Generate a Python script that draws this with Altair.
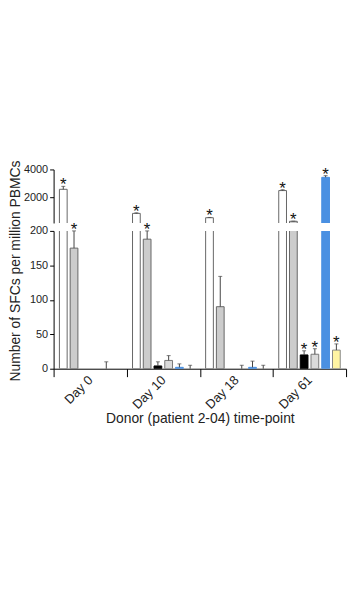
import altair as alt
import pandas as pd

days = ["Day 0", "Day 10", "Day 18", "Day 61"]
series = ["Open", "Hatched", "Black", "Grey", "Blue", "Yellow"]

open_vals = [2590, 880, 573, 2500]
hatched_vals = [175, 188, 90, 320]
black_vals = [0, 4, 0, 20]
grey_vals = [0, 12, 0, 21]
blue_vals = [0, 2, 2, 3440]
yellow_vals = [0, 0, 0, 27]

open_err = [210, 40, 20, 60]
hatched_err = [25, 12, 44, 10]
black_err = [0, 6, 0, 6]
grey_err = [0, 7, 5, 8]
blue_err = [10, 5, 9, 120]
yellow_err = [0, 5, 5, 9]

open_star = [True, True, True, True]
hatched_star = [True, True, False, True]
black_star = [False, False, False, True]
grey_star = [False, False, False, True]
blue_star = [False, False, False, True]
yellow_star = [False, False, False, True]

fills = ["#ffffff", "#cccccc", "#000000", "#dadada", "#4a90e2", "#fff4a3"]
strokes = ["#666666", "#666666", "#000000", "#777777", "#4a90e2", "#888888"]

vals = [open_vals, hatched_vals, black_vals, grey_vals, blue_vals, yellow_vals]
errs = [open_err, hatched_err, black_err, grey_err, blue_err, yellow_err]
stars = [open_star, hatched_star, black_star, grey_star, blue_star, yellow_star]

rows = []
for si, s in enumerate(series):
    for di, d in enumerate(days):
        rows.append({
            "day": d, "series": s, "value": vals[si][di], "err": errs[si][di],
            "top": vals[si][di] + errs[si][di], "star": stars[si][di],
        })
df = pd.DataFrame(rows)

FONT = "Liberation Sans"

xenc = alt.X("day:N", sort=days, scale=alt.Scale(paddingInner=0, paddingOuter=0))
xoff = alt.XOffset("series:N", sort=series,
                   scale=alt.Scale(paddingInner=0.28, paddingOuter=0.54))
color = alt.Color("series:N", scale=alt.Scale(domain=series, range=fills), legend=None)
stroke = alt.Stroke("series:N", scale=alt.Scale(domain=series, range=strokes), legend=None)

W = 295
STAR = dict(text="*", fontSize=17, font=FONT, baseline="alphabetic", dy=4, color="#111")

# ---------- top panel ----------
top_scale = alt.Scale(domain=[200, 4000], nice=False, zero=False)
top_axis = alt.Axis(values=[2000, 4000], format="d", title=None, grid=False, tickSize=4,
                    labelFontSize=11, labelFont=FONT, domainColor="#000", tickColor="#000",
                    labelColor="#222", labelOverlap=False)
top_base = alt.Chart(df).transform_filter("datum.value > 200")
top_bars = top_base.mark_bar(clip=True, strokeWidth=1).encode(
    x=xenc.axis(None), xOffset=xoff,
    y=alt.Y("value:Q", scale=top_scale, axis=top_axis), y2=alt.datum(0),
    color=color, stroke=stroke)
top_err = top_base.mark_rule(color="#444", strokeWidth=1).encode(
    x=xenc.axis(None), xOffset=xoff,
    y=alt.Y("value:Q", scale=top_scale, axis=top_axis), y2="top:Q")
top_cap = top_base.mark_tick(color="#444", size=4, thickness=1).encode(
    x=xenc.axis(None), xOffset=xoff, y=alt.Y("top:Q", scale=top_scale, axis=top_axis))
top_star = top_base.transform_filter("datum.star").mark_text(**STAR).encode(
    x=xenc.axis(None), xOffset=xoff, y=alt.Y("top:Q", scale=top_scale, axis=top_axis))
top = alt.layer(top_bars, top_err, top_cap, top_star).properties(width=W, height=54)

# ---------- bottom panel ----------
bot_scale = alt.Scale(domain=[0, 200], nice=False)
bot_axis = alt.Axis(values=[0, 50, 100, 150, 200], format="d",
                    title="Number of SFCs per million PBMCs",
                    grid=False, tickSize=4, labelFontSize=11, labelFont=FONT,
                    domainColor="#000", tickColor="#000", labelColor="#222",
                    labelOverlap=False,
                    titleFont=FONT, titleFontSize=14, titleFontWeight="normal",
                    titleColor="#222", titleAngle=270, titleAlign="center",
                    titleBaseline="middle", titleX=-38, titleY=40)
x_axis = alt.Axis(title="Donor (patient 2-04) time-point", labelAngle=315,
                  labelAlign="right", labelBaseline="middle", labelPadding=1,
                  labelFontSize=13, labelFont=FONT, labelColor="#222",
                  tickBand="extent", tickSize=8, domainColor="#000", tickColor="#000",
                  titleFont=FONT, titleFontSize=14, titleFontWeight="normal",
                  titleColor="#222", titlePadding=0)
bot_base = alt.Chart(df)
bot_bars = bot_base.transform_filter("datum.value > 0").mark_bar(
    clip=True, strokeWidth=1).encode(
    x=xenc.axis(x_axis), xOffset=xoff,
    y=alt.Y("value:Q", scale=bot_scale, axis=bot_axis),
    color=color, stroke=stroke)
eb = bot_base.transform_filter("datum.value < 200 && datum.err > 0")
bot_err = eb.mark_rule(color="#444", strokeWidth=1).encode(
    x=xenc.axis(x_axis), xOffset=xoff,
    y=alt.Y("value:Q", scale=bot_scale, axis=bot_axis), y2="top:Q")
bot_cap = eb.mark_tick(color="#444", size=4, thickness=1).encode(
    x=xenc.axis(x_axis), xOffset=xoff, y=alt.Y("top:Q", scale=bot_scale, axis=bot_axis))
bot_star = bot_base.transform_filter("datum.star && datum.value < 200").mark_text(
    **STAR).encode(
    x=xenc.axis(x_axis), xOffset=xoff, y=alt.Y("top:Q", scale=bot_scale, axis=bot_axis))
bottom = alt.layer(bot_bars, bot_err, bot_cap, bot_star).properties(width=W, height=139)

chart = alt.vconcat(top, bottom, spacing=8, bounds="flush").properties(
    padding={"top": 151, "left": 0, "right": 5, "bottom": 5}
).configure_view(stroke=None).configure_axis(grid=False)

chart.save("out.html", embed_options={"renderer": "svg", "actions": False})
